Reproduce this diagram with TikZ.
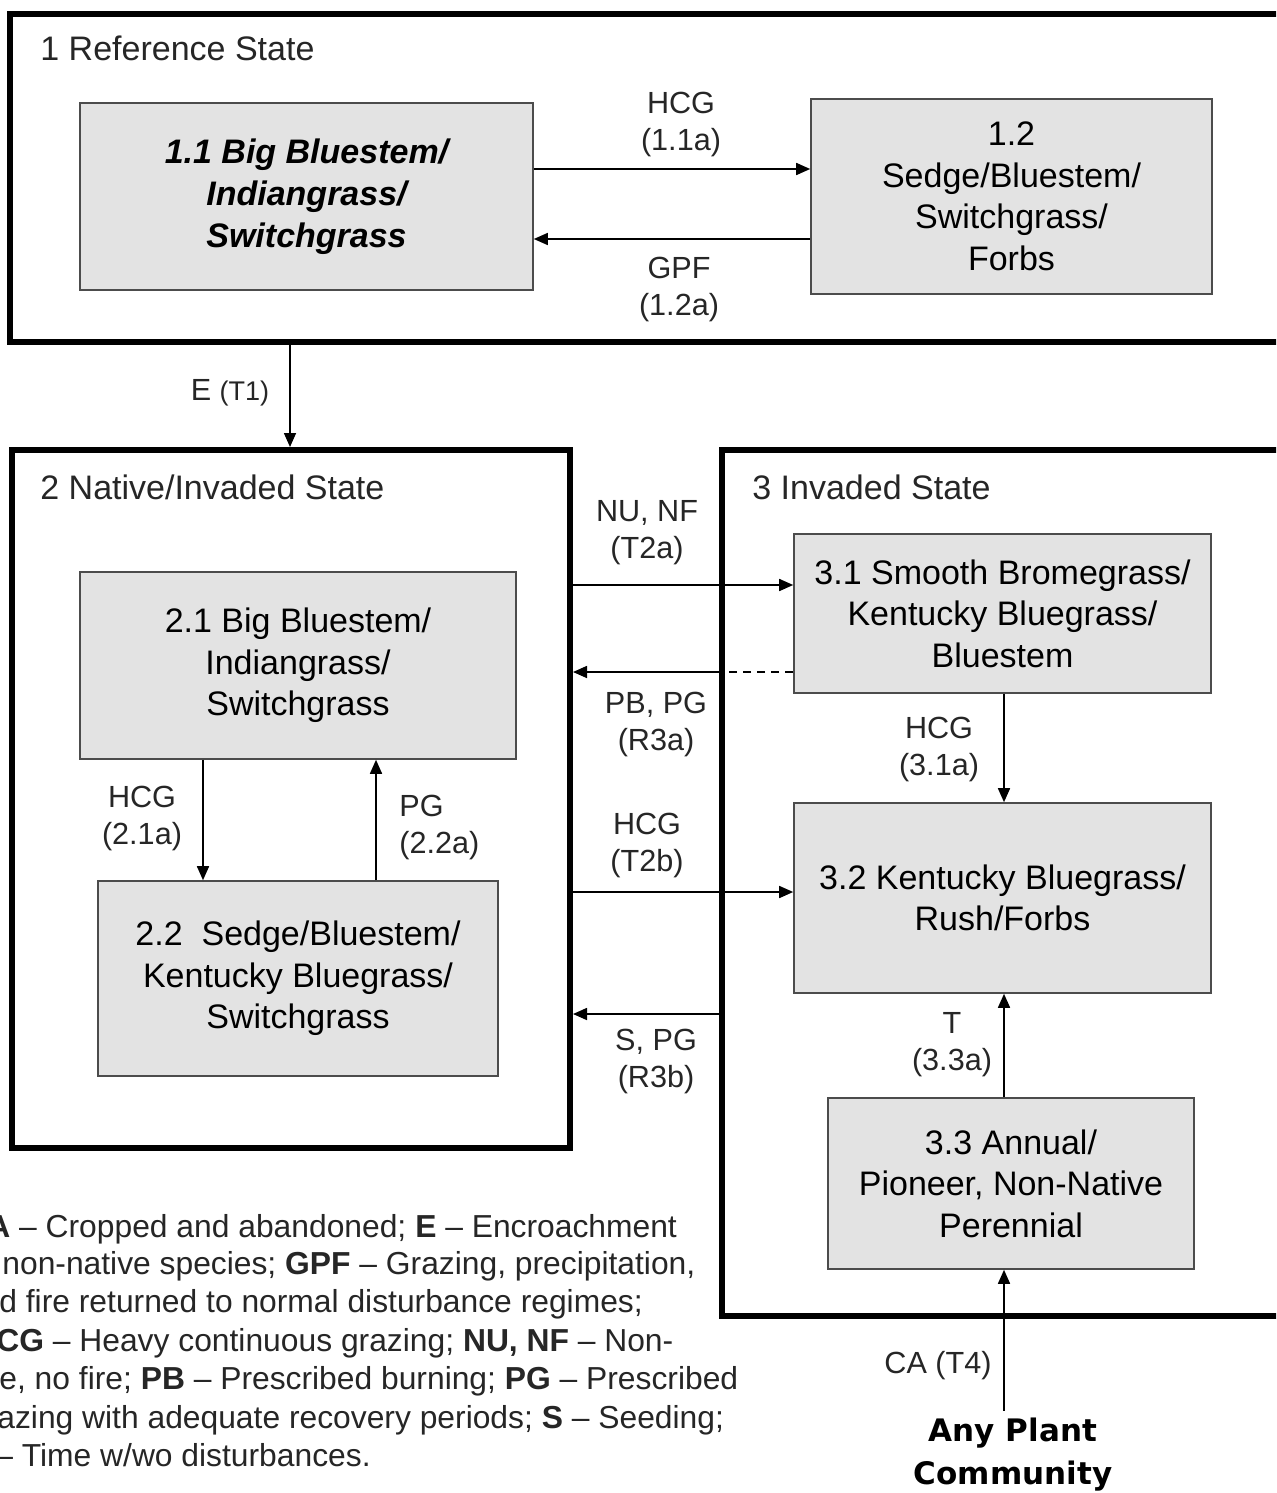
\documentclass[tikz,border=0pt]{standalone}
\usepackage{fontspec}
\setmainfont{Liberation Sans}
\newfontfamily\apcfont{DejaVu Sans}
\usetikzlibrary{arrows.meta}
\begin{document}
\begin{tikzpicture}[x=0.5pt,y=-0.5pt,
  statebox/.style={draw=black,line width=3pt,inner sep=0pt},
  commbox/.style={draw=black!70,fill=black!11,line width=0.8pt,inner sep=0pt,align=center,
    font=\fontsize{17}{20.75}\selectfont},
  statetitle/.style={anchor=west,inner sep=0pt,font=\fontsize{17}{20}\selectfont,text=black!85},
  lbl/.style={align=center,inner sep=0pt,font=\fontsize{15.3}{18.5}\selectfont,text=black!85},
  legline/.style={anchor=base west,inner sep=0pt,font=\fontsize{15.9}{19}\selectfont,text=black!85},
  arr/.style={-{Triangle[length=7pt,width=6pt]},line width=0.8pt},
  plain/.style={line width=0.8pt}]
\useasboundingbox (0,0) rectangle (1276,1493);
\clip (0,0) rectangle (1276,1493);
\fill[white] (0,0) rectangle (1276,1493);

% state boxes
\node[statebox,minimum width=645pt,minimum height=164pt] (s1) at (655,178) {};
\node[statebox,minimum width=279pt,minimum height=349pt] (s2) at (291,799) {};
\node[statebox,minimum width=289pt,minimum height=433pt] (s3) at (1011,883) {};

\node[statetitle] (t1) at (40,48) {1 Reference State};
\node[statetitle] (t2) at (40,487) {2 Native/Invaded State};
\node[statetitle] (t3) at (752,487) {3 Invaded State};

% community boxes
\node[commbox,minimum width=226.5pt,minimum height=93.5pt,font=\fontsize{17}{21}\selectfont\bfseries\itshape] (b11) at (306.5,196.5)
  {1.1 Big Bluestem/\\Indiangrass/\\Switchgrass};
\node[commbox,minimum width=200.5pt,minimum height=97.5pt] (b12) at (1011.5,196.5)
  {1.2\\Sedge/Bluestem/\\Switchgrass/\\Forbs};
\node[commbox,minimum width=218pt,minimum height=93.5pt] (b21) at (298,665.5)
  {2.1 Big Bluestem/\\Indiangrass/\\Switchgrass};
\node[commbox,minimum width=200pt,minimum height=97.5pt] (b22) at (298,978.5)
  {2.2~ Sedge/Bluestem/\\Kentucky Bluegrass/\\Switchgrass};
\node[commbox,minimum width=208.5pt,minimum height=79.5pt] (b31) at (1002.5,613.5)
  {3.1 Smooth Bromegrass/\\Kentucky Bluegrass/\\Bluestem};
\node[commbox,minimum width=208.5pt,minimum height=95pt] (b32) at (1002.5,898)
  {3.2 Kentucky Bluegrass/\\Rush/Forbs};
\node[commbox,minimum width=183pt,minimum height=85.5pt] (b33) at (1011,1183.5)
  {3.3 Annual/\\Pioneer, Non-Native\\Perennial};

\node[align=center,inner xsep=0pt,inner ysep=3.5pt,font=\apcfont\bfseries\fontsize{15.5}{21.5}\selectfont] (apc) at (1013,1455)
  {Any Plant\\Community};

% arrows, state 1
\draw[arr] (b11.east |- 0,169) -- (b12.west |- 0,169);
\draw[arr] (b12.west |- 0,239) -- (b11.east |- 0,239);
\node[lbl] (l11a) at (681,124) {HCG\\(1.1a)};
\node[lbl] (l12a) at (679,289) {GPF\\(1.2a)};

% T1
\draw[arr] (s1.south -| 290,0) -- (s2.north -| 290,0);
\node[lbl] (lt1) at (230,393) {E {\fontsize{13.5}{16}\selectfont(T1)}};

% state 2 internal
\draw[arr] (b21.south -| 203,0) -- (b22.north -| 203,0);
\draw[arr] (b22.north -| 376,0) -- (b21.south -| 376,0);
\node[lbl] (l21a) at (142,818) {HCG\\(2.1a)};
\node[lbl,align=left,anchor=west] (l22a) at (399,827) {PG\\(2.2a)};

% between states 2 and 3
\draw[arr] (s2.east |- 0,585) -- (b31.west |- 0,585);
\draw[plain,dash pattern=on 4pt off 3pt] (b31.west |- 0,672) -- (s3.west |- 0,672);
\draw[arr] (s3.west |- 0,672) -- (s2.east |- 0,672);
\draw[arr] (s2.east |- 0,892) -- (b32.west |- 0,892);
\draw[arr] (s3.west |- 0,1014) -- (s2.east |- 0,1014);
\node[lbl] (lt2a) at (647,533) {NU, NF\\(T2a)};
\node[lbl] (lr3a) at (656,724) {PB, PG\\(R3a)};
\node[lbl] (lt2b) at (647,845) {HCG\\(T2b)};
\node[lbl] (lr3b) at (656,1061) {S, PG\\(R3b)};

% state 3 internal
\draw[arr] (b31.south -| 1004,0) -- (b32.north -| 1004,0);
\draw[arr] (b33.north -| 1004,0) -- (b32.south -| 1004,0);
\node[lbl] (l31a) at (939,749) {HCG\\(3.1a)};
\node[lbl] (l33a) at (952,1045) {T\\(3.3a)};

% T4
\draw[arr] (apc.north -| 1004,0) -- (b33.south -| 1004,0);
\node[lbl] (lt4) at (938,1366) {CA (T4)};

% legend
\node[legline] (g1) at (-13,1237) {\textbf{A} -- Cropped and abandoned; \textbf{E} -- Encroachment};
\node[legline] (g2) at (2,1274) {non-native species; \textbf{GPF} -- Grazing, precipitation,};
\node[legline] (g3) at (-1,1312) {d fire returned to normal disturbance regimes;};
\node[legline] (g4) at (-4,1351) {\textbf{CG} -- Heavy continuous grazing; \textbf{NU, NF} -- Non-};
\node[legline] (g5) at (-1,1389) {e, no fire; \textbf{PB} -- Prescribed burning; \textbf{PG} -- Prescribed};
\node[legline] (g6) at (-3,1428) {azing with adequate recovery periods; \textbf{S} -- Seeding;};
\node[legline] (g7) at (-5,1466) {-- Time w/wo disturbances.};
\end{tikzpicture}
\end{document}
